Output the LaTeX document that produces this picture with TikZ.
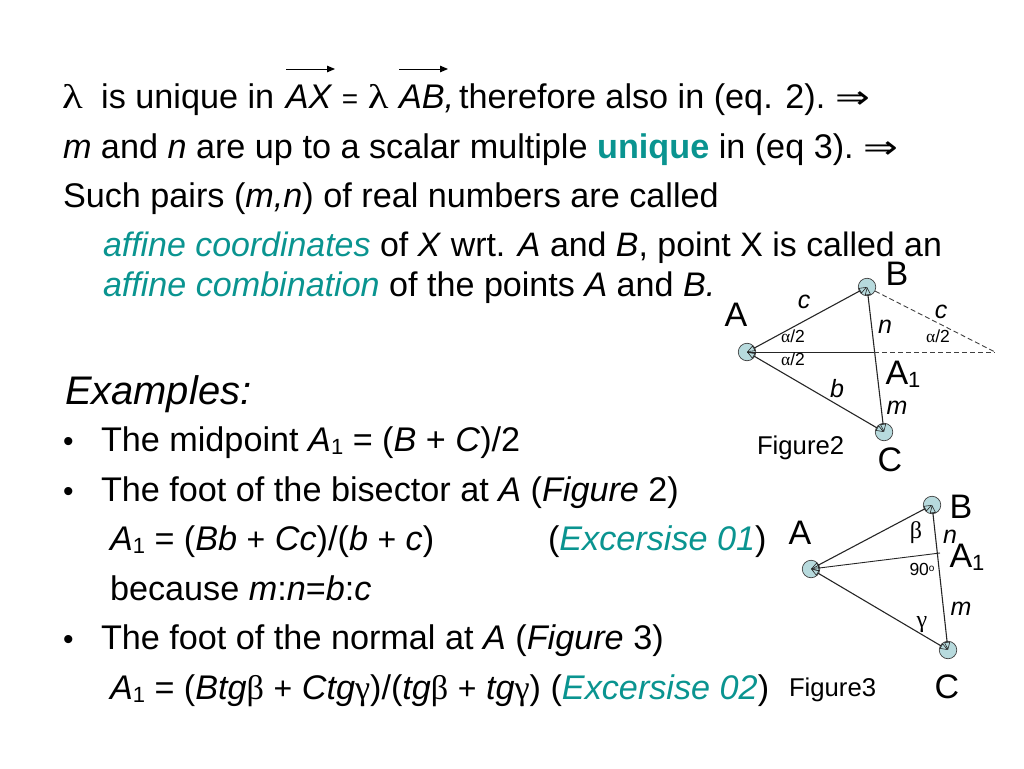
\documentclass[tikz,border=0pt]{standalone}
\usepackage{fontspec}
\setmainfont{Liberation Sans}
\newfontfamily\symf{Liberation Serif}
\newfontfamily\arrf{DejaVu Sans}
\definecolor{tealtxt}{HTML}{0A9490}
\definecolor{dotfill}{HTML}{B7DADD}
\newcommand{\G}[1]{{\symf\selectfont #1}}
\newcommand{\GW}[1]{\scalebox{1.25}[1]{\symf\selectfont #1}}
\newcommand{\Rarr}{\hspace{-3pt}\scalebox{1.3}[1]{\arrf\fontsize{32}{32}\selectfont ⇒}}
\newcommand{\T}[1]{\textcolor{tealtxt}{#1}}
\newcommand{\I}[1]{\textit{#1}}
\newcommand{\Pl}{{\fontsize{32}{32}\selectfont +}}
\newcommand{\sub}[1]{\raisebox{-3pt}{\fontsize{22}{22}\selectfont #1}}
\usetikzlibrary{arrows.meta}
\tikzset{
  txt/.style={anchor=base west,inner sep=0pt,outer sep=0pt,font=\fontsize{34.2}{36}\selectfont},
  narrowtxt/.style={txt,font=\fontsize{33.9}{36}\selectfont},
  bul/.style={anchor=base west,inner sep=0pt,outer sep=0pt,font=\fontsize{30}{32}\selectfont},
  figl/.style={anchor=base,inner sep=0pt,outer sep=0pt,font=\fontsize{34}{36}\selectfont},
  figi/.style={anchor=base,inner sep=0pt,outer sep=0pt,font=\fontsize{25}{26}\selectfont\itshape},
  figs/.style={anchor=base,inner sep=0pt,outer sep=0pt,font=\fontsize{17.5}{18}\selectfont},
  figc/.style={anchor=base west,inner sep=0pt,outer sep=0pt,font=\fontsize{25.7}{26}\selectfont},
  dot/.style={circle,draw=black!75,line width=0.7pt,fill=dotfill,minimum size=17.5pt,inner sep=0pt},
  tipend/.tip={Triangle[open,length=8pt,width=6pt,line width=0.6pt]},
  edgeline/.style={line width=1.1pt,draw=black!85,tipend-tipend},
  plainline/.style={line width=0.9pt,draw=black!85},
  dashline/.style={line width=0.9pt,draw=black!75,dash pattern=on 5pt off 3pt},
  vecar/.style={line width=1pt,-{Triangle[length=8pt,width=6.5pt]}}
}
\begin{document}
\begin{tikzpicture}[x=1pt,y=-1pt]
\useasboundingbox (0,0) rectangle (1024,768);
\node[txt] (l1) at (62,108.5) {\GW{λ}\hspace{18.5pt}is unique in \hspace{2pt}\I{AX} {\fontsize{28}{28}\selectfont =} \GW{λ}\hspace{1pt} \I{AB,}\hspace{-4.5pt} therefore also in (eq. 2). \Rarr};
\node[txt] (l2) at (63,158.5) {\I{m} and \I{n} are up to a scalar multiple \textbf{\T{unique}} in (eq 3). \Rarr};
\node[txt] (l3) at (63,207.5) {Such pairs (\I{m,n}) of real numbers are called};
\node[narrowtxt] (l4) at (103,256.5) {\T{\I{affine coordinates}} of \I{X} wrt. \I{A} and \I{B}, point X is called an};
\node[txt,font=\fontsize{34.1}{36}\selectfont] (l5) at (103,296.5) {\T{\I{affine combination}} of the points \I{A} and \I{B.}};
\node[txt,font=\fontsize{39.9}{40}\selectfont\itshape] (ex) at (65,404) {Examples:};
\node[bul] (b1) at (63,451) {•};
\node[txt] (t1) at (101,451.5) {The midpoint \I{A}\sub{1} = (\I{B} + \I{C})/2};
\node[bul] (b2) at (63,501) {•};
\node[txt] (t2) at (101,501.5) {The foot of the bisector at \I{A} (\I{Figure} 2)};
\node[txt] (t3) at (110,550.5) {\I{A}\sub{1} = (\I{Bb} \Pl{} \I{Cc})/(\I{b} \Pl{} \I{c})};
\node[txt] (t3b) at (548,550.5) {(\T{\I{Excersise 01}})};
\node[txt] (t4) at (110,600.5) {because \I{m}:\I{n}=\I{b}:\I{c}};
\node[bul] (b3) at (63,649) {•};
\node[txt] (t5) at (101,649.5) {The foot of the normal at \I{A} (\I{Figure} 3)};
\node[txt] (t6) at (110,699.5) {\I{A}\sub{1} = (\I{Btg}\G{β} \Pl{} \I{Ctg}\G{γ})/(\I{tg}\G{β} \Pl{} \I{tg}\G{γ}) (\T{\I{Excersise 02}})};
% vector arrows
\coordinate (v1a) at (286,69); \coordinate (v1b) at (335,69);
\coordinate (v2a) at (399,69); \coordinate (v2b) at (448,69);
\draw[vecar] (v1a) -- (v1b);
\draw[vecar] (v2a) -- (v2b);
% figure 2
\node[dot] (A) at (747,352) {};
\node[dot] (B) at (867,287) {};
\node[dot] (C) at (884,432) {};
\coordinate (A1) at (874,352);
\coordinate (E) at (995,352);
\draw[edgeline] (A.center) -- (B.center);
\draw[edgeline] (A.center) -- (C.center);
\draw[edgeline] (B.center) -- (C.center);
\draw[plainline] (A.center) -- (A1);
\draw[dashline] (A1) -- (E);
\draw[dashline] (B) -- (E);
\node[figl] (lA) at (736,326) {A};
\node[figl] (lB) at (897,285) {B};
\node[figl] (lC) at (890,471) {C};
\node[figl] (lA1) at (903,384) {A\sub{1}};
\node[figi] (lc) at (804,308) {c};
\node[figi] (lc2) at (941,318) {c};
\node[figi] (ln) at (885,333) {n};
\node[figi] (lb) at (837,397) {b};
\node[figi] (lm) at (897,414) {m};
\node[figs] (al1) at (793,342) {\G{α}/2};
\node[figs] (al2) at (793,365) {\G{α}/2};
\node[figs] (al3) at (938,342) {\G{α}/2};
\node[figc] (f2) at (757,454) {Figure2};
% figure 3
\node[dot] (A3) at (811,569) {};
\node[dot] (B3) at (932,505) {};
\node[dot] (C3) at (948,650) {};
\coordinate (F3) at (940,553);
\draw[edgeline] (A3.center) -- (B3.center);
\draw[edgeline] (A3.center) -- (C3.center);
\draw[edgeline] (B3.center) -- (C3.center);
\draw[plainline,tipend-] (A3.center) -- (F3);
\node[figl] (lA3) at (800,544) {A};
\node[figl] (lB3) at (961,518) {B};
\node[figl] (lC3) at (947,698) {C};
\node[figl] (lA13) at (967,567) {A\sub{1}};
\node[figi] (ln3) at (950,543) {n};
\node[figi] (lm3) at (961,615) {m};
\node[figs,font=\fontsize{24}{24}\selectfont] (be) at (916,538) {\G{β}};
\node[figs,font=\fontsize{24}{24}\selectfont] (ga) at (922,627) {\G{γ}};
\node[figs] (n90) at (922,575) {90\raisebox{4pt}{\fontsize{10}{10}\selectfont o}};
\node[figc] (f3) at (789,696) {Figure3};
\end{tikzpicture}
\end{document}
